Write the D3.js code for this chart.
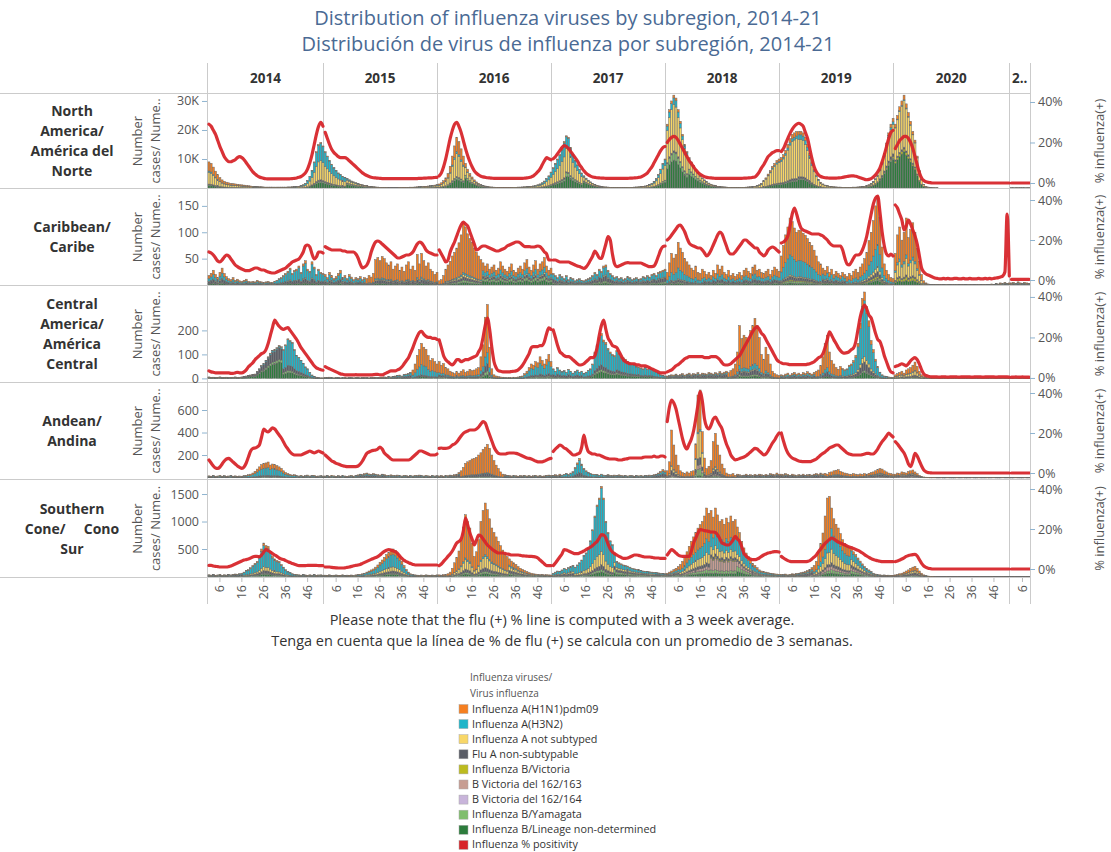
<!DOCTYPE html>
<html><head><meta charset="utf-8">
<script src="https://cdnjs.cloudflare.com/ajax/libs/d3/7.8.5/d3.min.js"></script>
<style>
body{margin:0;background:#fff;}
svg{display:block;font-family:"Open Sans","Noto Sans",sans-serif;}
</style></head><body>
<script>
// ---------------- DATA ----------------
const titleLines = ["Distribution of influenza viruses by subregion, 2014-21","Distribución de virus de influenza por subregión, 2014-21"];
const footnotes = ["Please note that the flu (+) % line is computed with a 3 week average.","Tenga en cuenta que la línea de % de flu (+) se calcula con un promedio de 3 semanas."];
const years = ["2014","2015","2016","2017","2018","2019","2020","2021"];
const yearHeaders = ["2014","2015","2016","2017","2018","2019","2020","2.."];
const weeksPerYear = [53,52,52,52,52,52,53,9];
const weekTicks = [6,16,26,36,46];
const categories = ["Influenza A(H1N1)pdm09","Influenza A(H3N2)","Influenza A not subtyped","Flu A non-subtypable","Influenza B/Victoria","B Victoria del 162/163","B Victoria del 162/164","Influenza B/Yamagata","Influenza B/Lineage non-determined"];
const catColors = ["#f57f20","#1fb5c9","#f8d768","#5a5d66","#bcbb1f","#c79d92","#c8b4da","#80be6d","#2d7c3c"];
const lineName = "Influenza % positivity";
const lineColor = "#d7262b";
const legendTitle = ["Influenza viruses/","Virus influenza"];
const regionLabels = [["North","America/","América del","Norte"],["Caribbean/","Caribe"],["Central","America/","América","Central"],["Andean/","Andina"],["Southern","Cone/\u00a0\u00a0\u00a0\u00a0\u00a0Cono","Sur"]];
const leftTitle = ["Number","cases/ Nume.."];
const rightTitle = "% influenza(+)";

// North America – weekly cases in thousands, per year
const naCasesK = [
[9,8.5,7.2,5.8,4.6,3.6,2.8,2.3,2,1.8,1.6,1.5,1.4,1.3,1.2,1.1,1,0.9,0.8,0.7,0.6,0.5,0.45,0.4,0.4,0.35,0.3,0.3,0.3,0.3,0.3,0.3,0.3,0.3,0.3,0.3,0.35,0.35,0.4,0.45,0.5,0.6,0.8,1.1,1.6,2.5,4,6,9,12.5,15,15.7,14.5],
[12.5,11,9.5,8.2,7,6,5.2,4.6,4,3.6,3.2,2.8,2.4,2.1,1.8,1.5,1.3,1.1,0.9,0.8,0.6,0.5,0.4,0.35,0.3,0.25,0.2,0.2,0.2,0.15,0.15,0.15,0.15,0.15,0.2,0.2,0.2,0.25,0.25,0.3,0.3,0.35,0.4,0.45,0.5,0.55,0.6,0.7,0.8,0.9,1,1.2],
[1.4,1.8,2.5,3.5,5,7.5,11,14.5,17.5,16,13.5,11,8.5,6.5,5,3.8,2.8,2.1,1.6,1.2,0.9,0.7,0.5,0.4,0.35,0.3,0.25,0.2,0.2,0.2,0.2,0.2,0.2,0.2,0.25,0.25,0.3,0.3,0.35,0.4,0.45,0.5,0.6,0.7,0.9,1.1,1.4,1.8,2.4,3.2,4.2,5.5],
[7,8.5,10,11.5,13.5,16,18,17.5,14,11.5,9.5,8,6.5,5.2,4.2,3.4,2.7,2.1,1.6,1.2,0.9,0.7,0.5,0.4,0.35,0.3,0.25,0.2,0.2,0.2,0.2,0.2,0.2,0.2,0.2,0.25,0.25,0.3,0.35,0.4,0.45,0.55,0.7,0.9,1.2,1.6,2.2,3.2,4.6,6.5,8.5,10],
[22,27,30,32,31,27,23,18.5,15,12.5,10.5,9,7.8,6.5,5.4,4.4,3.5,2.8,2.2,1.7,1.3,1,0.8,0.6,0.5,0.4,0.35,0.3,0.25,0.2,0.2,0.2,0.2,0.2,0.25,0.25,0.3,0.35,0.4,0.5,0.6,0.8,1.1,1.5,2.5,3.5,4.8,6,7.5,8.5,9.5,10],
[10.5,11.5,13,15,17,18.5,19,19.5,19.5,19.5,19,17.5,15,12,9,6.5,4.5,3,2,1.4,1,0.8,0.6,0.5,0.4,0.35,0.3,0.3,0.25,0.25,0.25,0.25,0.25,0.3,0.3,0.35,0.4,0.5,0.6,0.8,1.1,1.5,2.2,3.2,4.5,6.5,9,12,15.5,19,22,24],
[22,25,28,30,32,29,26,23,19.5,16.5,11,6,3,1.3,0.6,0.3,0.15,0.08,0.05,0.03,0,0,0,0,0,0,0,0,0,0,0,0,0,0,0,0,0,0,0,0,0,0,0,0,0,0,0,0,0,0,0,0,0],
[0.02,0.02,0.03,0.02,0.03,0.02,0.03,0.02,0.03]
];
const naPos = [
[29,28,26,24,21,18,15.5,13,11.5,10.5,10.5,11,11.5,12.5,13,12.5,11.5,10,8.5,7,5.5,4.5,3.6,3,2.6,2.3,2.1,2,2,2,2,2,2,2,2,2,2,2.1,2.2,2.3,2.5,2.8,3.2,4,5,7,10,14,19,24,28,30,28],
[25,22,19,16.5,15,14,13,12.5,12.5,12.5,12,11,10,9,8,7,6,5,4.3,3.7,3.2,2.8,2.6,2.5,2.4,2.3,2.2,2.2,2.2,2.2,2.2,2.2,2.2,2.2,2.2,2.2,2.2,2.2,2.2,2.2,2.2,2.2,2.2,2.3,2.3,2.4,2.4,2.5,2.5,2.6,2.7,2.8],
[3.5,5,8,12,17,22,26,29,30,28,25,21,17,13.5,10.5,8,6,4.8,4,3.3,3,2.8,2.6,2.5,2.4,2.3,2.3,2.3,2.3,2.3,2.3,2.3,2.3,2.3,2.3,2.3,2.3,2.3,2.3,2.4,2.5,2.7,3,3.5,4.5,5.6,7,9,11,12.5,12,11.5],
[12,13,14.5,16,17.5,18.5,18,17,15.5,14,12.5,11,9,7.5,6,4.8,4,3.4,3,2.8,2.6,2.5,2.4,2.4,2.3,2.3,2.3,2.3,2.3,2.3,2.3,2.3,2.3,2.3,2.3,2.4,2.4,2.5,2.6,2.8,3,3.5,4.2,5,6.5,8,10,12,14,16,17.5,18],
[20,21.5,22.5,23,22.5,21,19,17,15,13,11,9.5,8,6.5,5.3,4.3,3.6,3.1,2.8,2.6,2.5,2.4,2.3,2.3,2.3,2.3,2.3,2.3,2.3,2.3,2.3,2.3,2.3,2.3,2.3,2.4,2.4,2.5,2.6,2.8,3,4,5.5,7.5,9,11,13,14,15,15.5,16,16],
[15.5,17,19.5,22,24.5,26.5,28,29,29.5,29,28,25,22,17,12,8,5.5,4,3.2,2.8,2.6,2.5,2.4,2.4,2.4,2.4,2.5,2.6,2.8,3,3.2,3.4,3.5,3.5,3.3,3,2.6,2.2,1.8,1.6,1.8,2.2,3,4,5.5,7.5,10.5,14,18,22,25,26],
[17,19,21,22,23,23,22,20,17,13,9,5,2.5,1.2,0.6,0.3,0.15,0,0,0,0,0,0,0,0,0,0,0,0,0,0,0,0,0,0,0,0,0,0,0,0,0,0,0,0,0,0,0,0,0,0,0,0],
[0,0,0,0,0,0,0,0,0]
];
// Caribbean – weekly cases
const caribCases = [
[18,22,28,20,14,24,32,22,16,12,10,14,9,11,8,7,9,11,7,6,7,6,9,7,6,5,6,7,5,5,7,9,12,14,18,22,26,32,22,28,30,36,24,40,46,30,26,44,34,20,30,24,22],
[20,14,24,18,12,16,22,28,14,18,12,20,15,10,14,12,16,10,14,12,18,15,22,48,52,46,54,50,42,38,44,30,36,40,28,34,26,38,44,30,36,28,58,40,60,46,36,42,30,26,20,24],
[8,10,18,30,38,45,55,62,70,80,95,119,110,97,88,81,70,62,55,48,42,36,40,30,34,38,28,32,44,36,30,26,34,40,28,24,32,36,30,42,48,34,28,38,46,30,40,44,52,36,28,32],
[22,18,14,20,16,12,18,10,14,12,8,10,12,9,8,10,12,14,18,24,20,30,26,36,38,28,22,18,14,16,12,14,10,12,16,14,10,12,14,11,12,16,14,18,15,20,22,18,24,26,28,30],
[24,42,60,51,58,81,70,62,50,44,38,32,28,36,24,22,30,26,20,24,18,28,22,38,30,36,24,20,28,18,22,16,20,24,18,28,32,26,22,34,38,28,30,24,22,26,30,20,28,34,30,26],
[55,75,95,110,127,120,108,100,104,103,98,94,88,81,75,66,55,44,40,32,28,35,24,30,20,26,22,18,24,20,16,22,18,26,30,24,34,40,50,62,84,100,122,150,169,128,72,40,28,20,14,12],
[60,95,110,85,100,127,90,105,118,100,70,45,20,8,4,2,1,1,1,0.5,0.5,0.5,1,0.5,0.5,1,0.5,0.5,0.5,1,0.5,0.5,1,0.5,0.5,0.5,1,0.5,0.5,1,0.5,0.5,1,1,2,1,3,2,4,3,5,3,4],
[4,5,3,6,4,3,5,4,3]
];
const caribPos = [
[14,13.5,12.5,11,9.5,9,10,11.5,12.5,12,10.5,9,7.5,6.7,6,5.5,5,4.7,4.7,5,5.5,6,6,5.5,5,5,4.5,4,3.7,3.5,3.5,4,4.5,5,5.5,6,7,8,9,9.5,10,10.5,12,14,17,17.5,16.5,13,10.5,11.5,14,14,13.5],
[16.7,16,15.5,15,15,15,15,15,14.5,14.5,14,14,14,14,13,11,8,6,6.5,7.5,10,14,17,19,19.5,19,18,17,16,15,14,13,12,11,11,11.5,12,12.5,12.5,13,14,16,18,19,18.5,17,15,14,13.5,13,12.5,12.5],
[15,13,11,9,10,14,16.7,19,22,25,27.5,29,28,27,24,21,18,15,15.5,16.5,17,17,16.5,16,15.5,15,14.5,14.5,15,15.5,16,17,17.5,18,18.5,19,19,18.5,17.5,16.7,16.7,16.7,16.5,16.5,16.7,17,16.7,15.5,14,13,10,10],
[10,10,9.5,9,9,9,9,9,8.5,8,7.5,7,6.7,6.2,5.8,6.5,8,10,12,14.5,13,11,10.8,14,18,21.7,20,13,8,6.7,7,7.5,8,8.5,8.7,8.5,8.5,8.5,8.5,8.5,8.5,8,7.5,7,6.7,6.7,7,9,12,15,16.7,17],
[20,21,22.5,24,25.5,27,27.5,26,24,21,18.5,17.5,17,16.5,16,16,15,13.5,12,13,15,17.5,20,22.5,24,23,20,17,14,13,13,14,15.5,17,18.5,20,20,19,18,17,16,16,14,13,12,13,15,16,16.5,16,15,14],
[18.5,19,20,22,27,33,36,33,29,26,25,24.5,24,23.5,23,23,23,23,22.5,22,21,20,18.5,17.5,17,17,17,17,15,11,8,7.5,9,11,12.5,12.5,13,15,18,22,27.5,33,38,41,42,34,24,17,13,12,13,12],
[37.5,36,33,30,25,27,30,28,25,22,18,12,6,4,3,2.5,2,1.5,1,0.8,0.6,0.6,0.8,0.6,0.8,0.6,0.6,0.8,0.8,0.6,0.6,0.8,0.6,0.6,0.8,0.6,0.6,0.6,0.8,0.6,0.6,0.8,0.6,0.8,0.6,0.8,1,1.2,1.5,2,4,33,2],
[0.3,0.3,0.3,0.3,0.3,0.3,0.3,0.3,0.3]
];
// Central America – weekly cases
const camCases = [
[6,4,5,3,4,6,3,4,5,3,4,5,6,4,5,6,8,10,12,14,16,18,28,40,54,62,75,90,105,117,120,128,137,132,120,140,165,158,150,120,96,88,75,62,48,40,25,14,8,5,3,2,2],
[4,3,5,3,2,4,3,2,3,4,2,3,3,2,4,3,2,3,4,3,2,3,4,5,3,4,5,6,5,8,6,8,10,12,14,10,16,18,20,25,35,60,96,120,146,130,121,95,75,82,70,60],
[70,55,62,45,40,30,25,20,28,22,30,36,25,30,38,32,35,40,45,90,140,255,308,130,40,15,10,8,6,5,4,3,4,3,5,4,6,8,10,20,30,45,60,55,70,65,90,75,60,80,100,70],
[40,30,45,35,28,32,25,38,30,22,28,35,25,30,20,26,34,40,60,110,140,172,187,160,150,125,110,100,95,117,105,90,86,80,70,65,60,58,50,48,44,40,46,38,44,40,30,26,20,15,12,10],
[10,12,15,14,18,12,16,20,14,18,22,15,20,18,24,16,22,20,18,25,22,18,24,20,28,22,26,30,24,32,40,60,110,220,166,180,171,158,200,220,250,220,170,100,80,130,100,60,30,20,15,12],
[15,12,18,22,14,20,25,18,22,16,24,20,28,22,18,25,30,35,54,90,146,180,110,75,60,45,38,50,42,36,40,55,60,75,96,146,230,333,360,300,240,158,120,80,50,26,15,10,8,6,5,4],
[15,20,25,30,22,35,40,45,55,68,50,30,15,8,4,2,1,1,0.5,0.5,0.5,1,0.5,0.5,1,0.5,0.5,0.5,1,0.5,0.5,1,0.5,0.5,0.5,1,0.5,0.5,1,0.5,0.5,0.5,1,0.5,0.5,1,0.5,0.5,0.5,1,0.5,0.5,1],
[0.5,0.5,1,0.5,0.5,0.5,1,0.5,0.5]
];
const camPos = [
[3.5,3,2.8,2.5,2.5,2.5,2.5,2.5,2.5,2.5,2.3,2.3,2.5,2.8,2.5,2.5,3,4,5.5,6.5,7.5,9,10,11,12,12.5,14,17,21,25,28.6,27,25.5,24.5,24,24.5,24.8,23.5,22,20.5,19,17,15,13.5,12,10.5,9,7.5,6,5,4.5,4,3.8],
[5.6,5,4.5,4,3.5,3,2.5,2,1.8,1.5,1.5,1.5,1.5,1.5,1.6,1.5,1.5,1.5,1.5,1.5,1.5,1.5,1.6,1.8,1.8,1.5,1.5,2,2.5,3,3.5,3.5,3.5,4,4.5,5.5,7,8.5,10,12.5,15,18,20.5,22.5,23,21.5,20.5,20,20,19.5,19.5,19],
[18.8,15,11,9,8,7,6.4,7.5,9,9,8,8.5,9,9,9.5,10,10.5,11,13,15,20,26,29.6,24,15,8,5,3.5,3.3,3,3,3,3,3.2,3.3,3.5,4,5,6.3,8,10,12,15,15.5,15.5,15.5,16,16,18,22,24.7,24],
[23.7,20,16,13,12,11,10.5,10.5,10,9,8,7,6.4,6.5,7,8,9,10,10,11,15,21,26,28.6,24,19.7,18,16,15.5,15,13,11,9,8,7.5,7,7,7,6.5,6.5,6,6,6,5.5,5,4.5,4,3.5,3,2.5,2.5,2.5],
[3,3.5,4,5,6,6.6,7.5,8.5,9.5,10,10.5,10.5,10.5,10.5,10.5,10.5,10.5,10,10,10,10.5,10.5,10.5,10,9,7.5,6.5,6.4,6.5,7,8,9,10,11,13,15,17,19,21,23,24.5,25.3,24,22,21,19,17,15,13,11,9,8],
[7.4,7,7,6.8,6.6,6.6,6.6,6.6,6.6,6.6,6.6,6.6,6.8,7,7.5,8,9,10,10.5,12,15,19,22.8,21,18.8,17,15,13.5,12.5,12.3,12.5,13,14,14.8,18,24,30,34,36,34,31,29.6,26,22,19,18,15,11,8,5,3,2.5],
[5.6,6,6.5,7,6.5,6,7,8.5,9.5,10,9,6.8,4,2,1.2,0.8,0.6,0.5,0.5,0.5,0.4,0.5,0.6,0.5,0.4,0.5,0.5,0.6,0.5,0.4,0.5,0.5,0.6,0.5,0.5,0.4,0.5,0.6,0.5,0.5,0.4,0.5,0.5,0.6,0.5,0.5,0.4,0.5,0.5,0.6,0.5,0.5,0.4],
[0.4,0.4,0.5,0.4,0.4,0.5,0.4,0.4,0.4]
];
// Andean – weekly cases
const andCases = [
[15,12,18,10,14,20,12,16,10,14,18,12,15,10,14,12,16,20,25,30,40,55,75,95,115,126,130,138,111,120,115,105,95,82,60,45,35,28,22,25,18,14,20,12,16,22,14,18,20,12,14,16,14],
[14,18,12,20,15,10,16,12,18,14,10,15,20,12,18,24,30,26,35,40,32,28,36,30,25,22,30,26,20,18,24,20,16,22,18,14,20,16,12,18,14,20,16,22,18,14,20,15,12,18,14,16],
[14,18,12,20,16,22,18,25,30,45,60,90,126,140,150,165,170,180,200,220,250,270,295,260,200,150,110,80,50,30,25,20,18,14,20,16,12,18,15,20,14,18,12,16,20,14,18,12,15,20,22,18],
[20,25,18,30,22,28,35,25,40,52,90,130,170,120,82,60,45,35,30,28,25,20,30,22,18,26,20,16,22,18,24,20,15,18,14,20,16,12,18,15,20,14,18,16,22,18,25,30,40,55,70,60],
[60,140,422,289,200,110,60,45,35,50,40,55,60,300,733,778,407,173,80,100,150,318,393,289,200,120,80,40,30,25,35,20,30,25,18,22,30,20,25,18,28,22,30,25,20,28,22,35,30,25,40,30],
[30,25,35,28,20,30,24,18,26,22,30,20,25,28,22,30,35,28,40,32,38,30,45,50,60,65,70,55,48,40,35,30,28,35,30,25,32,28,35,30,38,45,50,60,70,80,75,60,50,40,35,30],
[30,40,35,50,45,40,55,60,67,50,35,20,10,5,3,2,1,1,1,0.5,0.5,1,0.5,0.5,1,0.5,0.5,0.5,1,0.5,0.5,1,0.5,0.5,0.5,1,0.5,0.5,1,0.5,0.5,0.5,1,0.5,0.5,1,0.5,0.5,0.5,1,0.5,0.5,1],
[0.5,0.5,1,0.5,0.5,0.5,1,0.5,0.5]
];
const andPos = [
[6.5,5,3.5,2.5,2.3,3,4.5,6,7,7.3,6.5,5.5,4.5,3.5,2.8,2.3,3,5,8,11,12.3,12.5,13,14,18,22,21,20.5,21.5,22.6,22,20.5,19,17.5,15.5,13.5,12,10.5,9.5,9,9,9,9,9.5,10,10.5,11,10.5,10,10.5,11,10.5,10],
[9,8,7,6,5.5,4.8,4.5,4,3.6,3.4,3.2,3.2,3.2,3.2,3.2,3.5,4.5,6,8,9.8,10.5,11,11.3,11.5,12,13,12,10,9,8,7,6.5,6.5,6.5,6.5,6.5,6.5,6.5,6.5,7,8,9,10,11,11,10.5,10,9.5,9,9,9,9.5],
[12.3,12.5,12.3,12.3,12.5,13,14,14.5,15.5,17,18.5,19.8,20.5,21,21.5,21.5,21.5,22,23,24.5,25.7,25,22,19,16,13,11,9.8,9.5,9.5,9.5,9.8,10,10,10,9.8,9.5,9,8.5,8,7.5,7.3,7,6.5,6,5.6,5.6,5.6,6,6.5,7,7.3],
[10.7,12,13,14,13.5,12.5,12,11,10,9,9,9.5,10,13,19,14,10.7,10,9.5,9.5,9,9,8.5,8,7.5,7.2,7,7,7,6.8,6.5,6.5,6.8,7,7.2,7.5,7.5,7.5,7.5,7.5,7.5,7.8,8,8,8,8,8.5,8,8,8.5,8.5,8],
[25.7,33,36.5,35,32,27,22,17,13.5,12,14.5,17,21,27,34,40.6,36,27,23,22,24,27,28,26,24,22,18,14.5,12,9,7.5,6.5,6.8,7.2,7.6,8,8.6,9.5,10.5,11.5,12.3,12,11,10,9,9.5,11,13,15,16.5,18.5,20],
[20,16,12.5,10,8.5,7.5,7,6.5,6,5.8,5.7,5.7,5.7,5.7,6,6.5,7,8,9,9.8,10.5,11.5,12.5,13,13.5,14,14,13,12,11,10,9.5,9.2,9,9,9,9,9.2,9.5,9.8,9.8,9.5,9.5,10.5,12,14,15.7,17,18.5,20,19,18],
[15.7,14.5,13,11.5,10,7.5,4.5,3.2,6,9.8,8.5,6,3.5,1.5,0.6,0.2,0.1,0,0,0,0,0,0,0,0,0,0,0,0,0,0,0,0,0,0,0,0,0,0,0,0,0,0,0,0,0,0,0,0,0,0,0,0],
[0,0,0,0,0,0,0,0,0]
];
// Southern Cone – weekly cases
const scCases = [
[30,25,35,20,28,40,22,30,25,35,28,40,45,38,50,60,80,110,124,160,200,240,276,380,500,609,560,549,450,367,320,290,276,220,170,124,90,70,50,33,40,30,25,35,28,22,30,25,35,20,28,30,25],
[25,20,30,18,24,28,20,22,30,18,25,20,28,22,30,35,40,50,60,80,100,120,137,170,210,260,300,350,400,440,488,500,470,420,360,280,200,130,80,50,35,30,25,20,28,22,30,25,20,28,22,30],
[30,25,35,40,50,80,150,250,350,464,650,900,1124,1000,882,600,364,450,669,1000,1200,1336,1215,1050,882,800,720,640,560,480,400,360,320,280,250,220,180,150,130,110,90,70,60,50,45,40,35,40,30,35,30,28],
[60,80,100,90,120,150,130,160,180,200,170,210,250,300,380,430,520,650,850,1100,1300,1427,1640,1427,1004,800,650,578,420,276,250,230,210,200,190,170,150,140,130,124,110,100,95,90,85,80,75,70,65,60,55,50],
[60,80,100,124,150,180,220,276,350,450,550,640,720,800,880,942,1000,1100,1245,1150,1200,1080,1245,1120,1000,1033,950,1063,980,1100,1004,1033,900,800,640,520,427,360,300,240,200,160,120,100,90,80,70,60,55,50,45,40],
[40,35,45,30,40,50,45,55,60,70,80,90,110,130,160,200,276,450,600,791,1100,1427,1457,1245,1050,950,882,780,669,600,549,530,518,450,400,337,280,230,184,150,120,90,60,45,33,30,25,28,22,25,20,22],
[30,40,50,60,80,100,120,150,170,184,150,100,60,30,15,8,4,2,1,0.5,0.5,1,0.5,0.5,1,0.5,0.5,0.5,1,0.5,0.5,1,0.5,0.5,0.5,1,0.5,0.5,1,0.5,0.5,0.5,1,0.5,0.5,1,0.5,0.5,0.5,1,0.5,0.5,1],
[0.5,0.5,1,0.5,0.5,0.5,1,0.5,0.5]
];
const scPos = [
[1.8,1.8,1.5,1.3,1.2,1,1,1,1,1.2,1.5,2,2.5,3,3.5,4,4.5,4.7,5,5.5,6,6.3,6.3,6,7,8.5,9.7,9.2,8.5,7.7,7,6.3,5.5,5,4.7,4.2,3.7,3.2,2.8,2.4,2,1.7,1.7,1.7,1.7,1.8,1.8,1.8,1.8,1.8,1.7,1.7,1.7],
[1,1,1,0.8,0.7,0.6,0.5,0.5,0.5,0.6,0.8,1,1.3,1.6,1.8,2,2.3,2.8,3.3,3.8,4.3,4.8,5.3,5.7,6.2,7,8,8.8,9.4,9.7,9.5,9,8.7,7.8,6.5,5.3,4.3,3.7,3.2,2.7,2.3,2,2,2,2,2,2,2,2,2,2,2],
[1.7,2.5,3.8,5,6.3,7.5,9,11,13,13.8,15,19,25.5,22,18,15,12,14.5,17,16.5,15,13.5,12,11,10,9.2,8.5,8,8,8,7.8,7.5,7.3,7,7,7,7,6.8,6.6,6.5,6.4,6.3,6.3,6.2,6,5.5,4.5,3.5,2.5,1.7,1.7,1.7],
[1.7,3,4.5,6,7.5,9.7,9.5,9,8.5,8,7.7,7.7,8,8.5,9,9.7,10.3,11,11.8,12.8,13.8,15.5,17.2,17,15.5,12.5,10,8.5,7.7,7,6.3,5.8,5.3,5.3,5.5,6,6.5,7,7,6.8,6.5,6.2,6,6,6,5.8,5.6,5.5,5.5,5.3,5.3,5.3],
[7,8.5,9.7,9,8,7,6.5,6.3,6.3,6.3,6.3,9,13,15.5,18,19.7,19.5,19.2,19,18.8,18.5,18.5,18.3,17,15,13,12.5,12,12,13,14.5,16.3,15,13.8,11,7.7,6.5,5.5,5,4.7,4.7,5,5.5,6.3,7,7.5,8,8.2,8.5,8.7,8.7,8.5],
[6.3,5.5,4.8,4.2,3.8,3.7,3.7,3.7,3.7,3.7,3.7,3.7,3.8,4.2,5,6,7,8.7,10,11.5,12.8,13.8,14.7,15.5,15,14.2,13.5,13,12.5,12,11.5,11,10.7,10.2,9.8,9.3,8.7,8,7.2,6.5,5.8,5.2,4.7,4.4,4.1,3.9,3.7,3.7,3.7,3.7,3.7,3.7],
[3.7,4,4.5,5,5.6,6.3,6.7,7,7.2,7.3,6.5,4.7,2.8,1.5,0.8,0.4,0.2,0,0,0,0,0,0,0,0,0,0,0,0,0,0,0,0,0,0,0,0,0,0,0,0,0,0,0,0,0,0,0,0,0,0,0,0],
[0,0,0,0,0,0,0,0,0]
];
// Virus mix (share of each category, legend order) from [yearIndex, week] onwards
const naMix = [
[0,1,.35,.05,.45,.03,0,0,0,.02,.10],[0,21,.05,.15,.30,.20,0,0,0,.10,.20],[0,41,.02,.38,.42,.03,0,0,0,.03,.12],
[1,11,.01,.15,.30,.04,0,0,0,.15,.35],[1,37,.15,.15,.40,.05,0,0,0,.05,.20],[2,1,.28,.04,.45,.02,0,0,0,.04,.17],
[2,13,.15,.03,.30,.02,0,0,0,.10,.40],[2,37,.03,.30,.45,.03,0,0,0,.04,.15],[3,7,.02,.22,.45,.02,0,0,0,.07,.22],
[3,15,.02,.10,.30,.02,0,0,0,.10,.46],[3,37,.03,.20,.50,.02,0,0,0,.05,.20],[4,1,.03,.07,.50,.02,0,0,0,.08,.30],
[4,11,.03,.05,.30,.02,0,0,0,.15,.45],[4,37,.08,.05,.70,.03,0,0,0,.02,.12],[5,9,.06,.08,.66,.03,0,0,0,.02,.15],
[5,37,.05,.04,.42,.04,.02,0,0,.02,.41],[6,1,.05,.01,.50,.02,.03,0,0,0,.39],[6,18,.20,.20,.30,.10,0,0,0,0,.20]
];
const caribMix = [
[0,1,.30,.30,.05,.20,0,0,0,.05,.10],[0,31,.10,.60,.03,.17,0,0,0,.02,.08],[1,1,.20,.40,.05,.20,0,0,0,.05,.10],
[1,20,.75,.05,.03,.10,0,0,0,.02,.05],[2,1,.80,.03,.04,.05,0,0,0,.04,.04],[2,21,.35,.20,.05,.10,0,0,0,.12,.18],
[3,1,.10,.40,.05,.25,0,0,0,.10,.10],[4,1,.60,.25,.02,.06,0,0,0,.03,.04],[4,18,.45,.25,.02,.15,0,0,0,.05,.08],
[5,1,.55,.30,.02,.05,.02,0,0,.03,.03],[5,20,.35,.30,.05,.15,.03,0,0,.04,.08],[5,31,.55,.25,.05,.05,.03,0,0,.02,.05],
[6,1,.55,.05,.25,.03,.05,0,0,0,.07],[6,15,.30,.20,.10,.30,0,0,0,0,.10]
];
const camMix = [
[0,1,.10,.20,0,.40,0,0,0,.10,.20],[0,19,.02,.05,0,.35,0,0,0,.08,.50],[0,35,.02,.65,0,.13,0,0,0,.05,.15],
[1,9,.10,.40,0,.40,0,0,0,.05,.05],[1,41,.60,.30,0,.05,0,0,0,0,.05],[2,1,.65,.15,0,.10,0,0,0,.05,.05],
[2,37,.30,.50,0,.10,0,0,0,.05,.05],[3,1,.05,.55,0,.25,0,0,0,.05,.10],[3,15,.05,.65,0,.10,0,0,0,.05,.15],
[4,1,.20,.20,.05,.35,0,0,0,.10,.10],[4,29,.75,.08,.02,.08,0,0,0,.03,.04],[5,1,.30,.30,0,.30,0,0,0,.05,.05],
[5,17,.75,.10,0,.10,0,0,0,0,.05],[5,29,.10,.65,.06,.10,0,0,0,.02,.07],[6,1,.50,.05,.25,.10,.02,0,0,0,.08],
[6,15,.30,.20,.10,.30,0,0,0,0,.10]
];
const andMix = [
[0,1,.20,.30,0,.40,0,0,0,.05,.05],[0,19,.35,.50,0,.10,0,0,0,.02,.03],[0,41,.20,.30,0,.40,0,0,0,.05,.05],
[2,1,.30,.20,0,.40,0,0,0,.05,.05],[2,11,.85,.02,0,.10,0,0,0,0,.03],[2,31,.30,.20,0,.45,0,0,0,.03,.02],
[3,5,.10,.65,0,.20,0,0,0,.02,.03],[3,25,.20,.30,0,.40,0,0,0,.05,.05],[4,1,.75,.02,.08,.10,0,.03,0,.02,0],
[4,14,.45,.02,.30,.08,0,.05,0,.08,.02],[4,18,.75,.02,.05,.10,0,.03,0,.03,.02],[4,33,.30,.20,0,.40,0,0,0,.05,.05],
[5,1,.30,.20,0,.40,0,.05,0,.03,.02],[5,21,.60,.10,0,.20,0,.05,0,.03,.02],[5,41,.50,.10,.05,.25,0,.07,0,0,.03],
[6,1,.45,.05,.10,.20,0,.15,0,0,.05],[6,15,.30,.20,.10,.30,0,0,0,0,.10]
];
const scMix = [
[0,1,.05,.30,0,.50,0,0,0,.05,.10],[0,17,.08,.62,.12,.08,0,0,0,.03,.07],[0,41,.10,.30,.10,.40,0,0,0,.05,.05],
[1,13,.20,.45,.15,.08,0,0,0,.04,.08],[1,41,.20,.30,.05,.35,0,0,0,.05,.05],[2,1,.50,.10,.15,.15,0,0,0,.05,.05],
[2,5,.70,.03,.15,.05,0,0,0,.03,.04],[2,33,.35,.10,.20,.15,0,0,0,.10,.10],[3,1,.05,.50,.15,.20,0,0,0,.05,.05],
[3,11,.02,.70,.15,.05,0,0,0,.03,.05],[3,29,.05,.35,.15,.15,0,0,0,.15,.15],[4,1,.30,.20,.10,.20,0,0,0,.10,.10],
[4,7,.45,.20,.15,.05,0,.05,0,.05,.05],[4,21,.35,.20,.12,.04,.02,.17,0,.05,.05],[4,33,.20,.35,.10,.05,0,.10,0,.10,.10],
[5,1,.20,.20,.10,.30,0,.10,0,.05,.05],[5,16,.55,.15,.15,.03,0,.05,0,.03,.04],[5,24,.30,.30,.20,.05,0,.05,0,.05,.05],
[5,33,.10,.30,.20,.10,0,.10,0,.10,.10],[6,1,.40,.05,.20,.20,0,.05,0,0,.10],[6,15,.30,.20,.10,.30,0,0,0,0,.10]
];

// ---------------- LAYOUT ----------------
const W = 1111, H = 852, X0 = 208, X1 = 1030;
const rowLayout = [
 {cases: naCasesK.map(a => a.map(v => v * 1000)), pos: naPos, mix: naMix, top: 94, bottom: 188, left: [0, 32400], ticks: [10000, 20000, 30000], fmt: d => (d / 1000) + "K", right: [-2.47, 43.95]},
 {cases: caribCases, pos: caribPos, mix: caribMix, top: 189, bottom: 285, left: [0, 182], ticks: [50, 100, 150], fmt: d => d, right: [-2.5, 45.5]},
 {cases: camCases, pos: camPos, mix: camMix, top: 286, bottom: 382, left: [-15, 385], ticks: [0, 100, 200], fmt: d => d, right: [-2, 45.4]},
 {cases: andCases, pos: andPos, mix: andMix, top: 383, bottom: 479, left: [-13, 840], ticks: [200, 400, 600], fmt: d => d, right: [-3, 45]},
 {cases: scCases, pos: scPos, mix: scMix, top: 480, bottom: 577, left: [-9, 1755], ticks: [500, 1000, 1500], fmt: d => d, right: [-4, 44.5]}
];

const svg = d3.select("body").append("svg").attr("width", W).attr("height", H);
const catKeys = categories.map((c, i) => "c" + i);
const color = d3.scaleOrdinal().domain(catKeys).range(catColors);

const weeks = [];
const yearStart = [];
years.forEach((y, yi) => {
  yearStart.push(weeks.length);
  for (let w = 1; w <= weeksPerYear[yi]; w++) weeks.push({key: yi + "-" + w, yi, w});
});
const x = d3.scaleBand().domain(weeks.map(d => d.key)).range([X0, X1]).paddingInner(0.12);
const step = x.step();
const bx = yi => yi >= years.length ? X1 : X0 + yearStart[yi] * step - (yi ? step * 0.06 : 0) - 1;

// Title
titleLines.forEach((t, i) => svg.append("text").attr("x", 568).attr("y", 25 + i * 26).attr("text-anchor", "middle")
  .attr("fill", "#4a6a94").style("font-size", "20px").text(t));

// Grid
const grid = svg.append("g").attr("stroke", "#cbcbcb").attr("stroke-width", 1).attr("shape-rendering", "crispEdges");
[93, 188, 285, 382, 479, 577].forEach(y => grid.append("line").attr("x1", 0).attr("x2", X1).attr("y1", y + 0.5).attr("y2", y + 0.5));
const vlines = [X0 - 1];
for (let yi = 1; yi < years.length; yi++) vlines.push(bx(yi));
vlines.push(X1);
vlines.forEach(v => grid.append("line").attr("x1", Math.round(v) + 0.5).attr("x2", Math.round(v) + 0.5).attr("y1", 63).attr("y2", 604)
  .attr("stroke-width", 1.5));

// Year headers
yearHeaders.forEach((t, yi) => {
  const a = yi === 0 ? X0 : bx(yi), b = bx(yi + 1);
  svg.append("text").attr("x", (a + b) / 2).attr("y", 83).attr("text-anchor", "middle")
    .attr("fill", "#333").style("font-size", "13.5px").style("font-weight", "700").text(t);
});

// Rows
rowLayout.forEach((r, ri) => {
  const yL = d3.scaleLinear().domain(r.left).range([r.bottom, r.top]);
  const yR = d3.scaleLinear().domain(r.right).range([r.bottom, r.top]);
  const cy = (r.top + r.bottom) / 2;

  const mixStart = r.mix.map(m => yearStart[m[0]] + m[1] - 1);
  const recs = weeks.map((wk, i) => {
    let mi = 0;
    for (let k = 0; k < mixStart.length; k++) if (mixStart[k] <= i) mi = k;
    const sh = r.mix[mi].slice(2);
    const s = d3.sum(sh);
    const total = r.cases[wk.yi][wk.w - 1] ?? 0;
    const rec = {key: wk.key, yi: wk.yi, total, pos: r.pos[wk.yi][wk.w - 1] ?? 0};
    catKeys.forEach((c, ci) => rec[c] = total * sh[ci] / s);
    return rec;
  });

  const clipId = "clip" + ri;
  svg.append("clipPath").attr("id", clipId).append("rect").attr("x", X0 - 1).attr("y", r.top).attr("width", X1 - X0 + 1).attr("height", r.bottom - r.top);
  const g = svg.append("g").attr("clip-path", "url(#" + clipId + ")");

  const series = d3.stack().keys(catKeys.slice().reverse())(recs);
  g.selectAll("g.s").data(series).join("g").attr("class", "s").attr("fill", d => color(d.key))
    .selectAll("rect").data(d => d.filter(p => p[1] - p[0] > 0.0001)).join("rect")
    .attr("x", d => x(d.data.key)).attr("width", x.bandwidth())
    .attr("y", d => yL(d[1])).attr("height", d => Math.max(0.3, yL(d[0]) - yL(d[1])))
    .attr("stroke", "#6a6a6a").attr("stroke-width", 0.5);

  const line = d3.line().x(d => x(d.key) + x.bandwidth() / 2).y(d => yR(d.pos)).curve(d3.curveMonotoneX);
  years.forEach((y, yi) => {
    g.append("path").datum(recs.filter(d => d.yi === yi)).attr("d", line)
      .attr("fill", "none").attr("stroke", lineColor).attr("stroke-width", 3.2)
      .attr("stroke-linejoin", "round").attr("stroke-linecap", "round").attr("opacity", 0.95);
  });

  // left axis
  const la = svg.append("g").attr("transform", "translate(" + (X0 - 1) + ",0)")
    .call(d3.axisLeft(yL).tickValues(r.ticks).tickFormat(r.fmt).tickSize(5).tickPadding(3));
  la.select(".domain").remove();
  la.selectAll(".tick line").attr("stroke", "#8fb4d0");
  la.selectAll(".tick text").attr("fill", "#555").style("font-size", "12.5px").style("font-family", "'Open Sans',sans-serif");

  // right axis
  const ra = svg.append("g").attr("transform", "translate(" + X1 + ",0)")
    .call(d3.axisRight(yR).tickValues([0, 20, 40]).tickFormat(d => d + "%").tickSize(5).tickPadding(3));
  ra.select(".domain").remove();
  ra.selectAll(".tick line").attr("stroke", "#8fb4d0");
  ra.selectAll(".tick text").attr("fill", "#555").style("font-size", "12.5px").style("font-family", "'Open Sans',sans-serif");

  // region label
  const lines = regionLabels[ri];
  lines.forEach((t, j) => svg.append("text").attr("x", 72).attr("y", cy + (j - (lines.length - 1) / 2) * 20 + 5)
    .attr("text-anchor", "middle").attr("fill", "#333").style("font-size", "14px").style("font-weight", "700").text(t));

  // axis titles
  leftTitle.forEach((t, j) => svg.append("text").attr("transform", "translate(" + (142 + j * 18) + "," + cy + ") rotate(-90)")
    .attr("text-anchor", "middle").attr("fill", "#555").style("font-size", "13px").text(t));
  svg.append("text").attr("transform", "translate(1104," + cy + ") rotate(-90)")
    .attr("text-anchor", "middle").attr("fill", "#555").style("font-size", "13px").text(rightTitle);
});

// bottom axis
const tickKeys = [];
years.forEach((y, yi) => weekTicks.forEach(w => { if (w <= weeksPerYear[yi]) tickKeys.push(yi + "-" + w); }));
const xa = svg.append("g").attr("transform", "translate(0,578)")
  .call(d3.axisBottom(x).tickValues(tickKeys).tickFormat(k => k.split("-")[1]).tickSize(4));
xa.select(".domain").remove();
xa.selectAll(".tick line").attr("stroke", "#bbb");
xa.selectAll(".tick text").attr("transform", "rotate(-90)").attr("x", -7).attr("y", 0).attr("dy", "0.35em")
  .style("text-anchor", "end").attr("fill", "#555").style("font-size", "12.5px").style("font-family", "'Open Sans',sans-serif");

// footnote
footnotes.forEach((t, i) => svg.append("text").attr("x", 562).attr("y", 625 + i * 21).attr("text-anchor", "middle")
  .attr("fill", "#333").style("font-size", "14.5px").text(t));

// legend
const lg = svg.append("g");
legendTitle.forEach((t, i) => lg.append("text").attr("x", 470).attr("y", 681 + i * 16).attr("fill", "#555").style("font-size", "10px").text(t));
const legItems = categories.map((c, i) => ({name: c, col: catColors[i]})).concat([{name: lineName, col: lineColor}]);
legItems.forEach((d, i) => {
  const yc = 709 + i * 15.1;
  lg.append("rect").attr("x", 459).attr("y", yc - 4.5).attr("width", 9).attr("height", 9).attr("fill", d.col).attr("stroke", "#aaa").attr("stroke-width", 0.5);
  lg.append("text").attr("x", 472).attr("y", yc + 3.5).attr("fill", "#333").style("font-size", "10.8px").text(d.name);
});
</script></body></html>
